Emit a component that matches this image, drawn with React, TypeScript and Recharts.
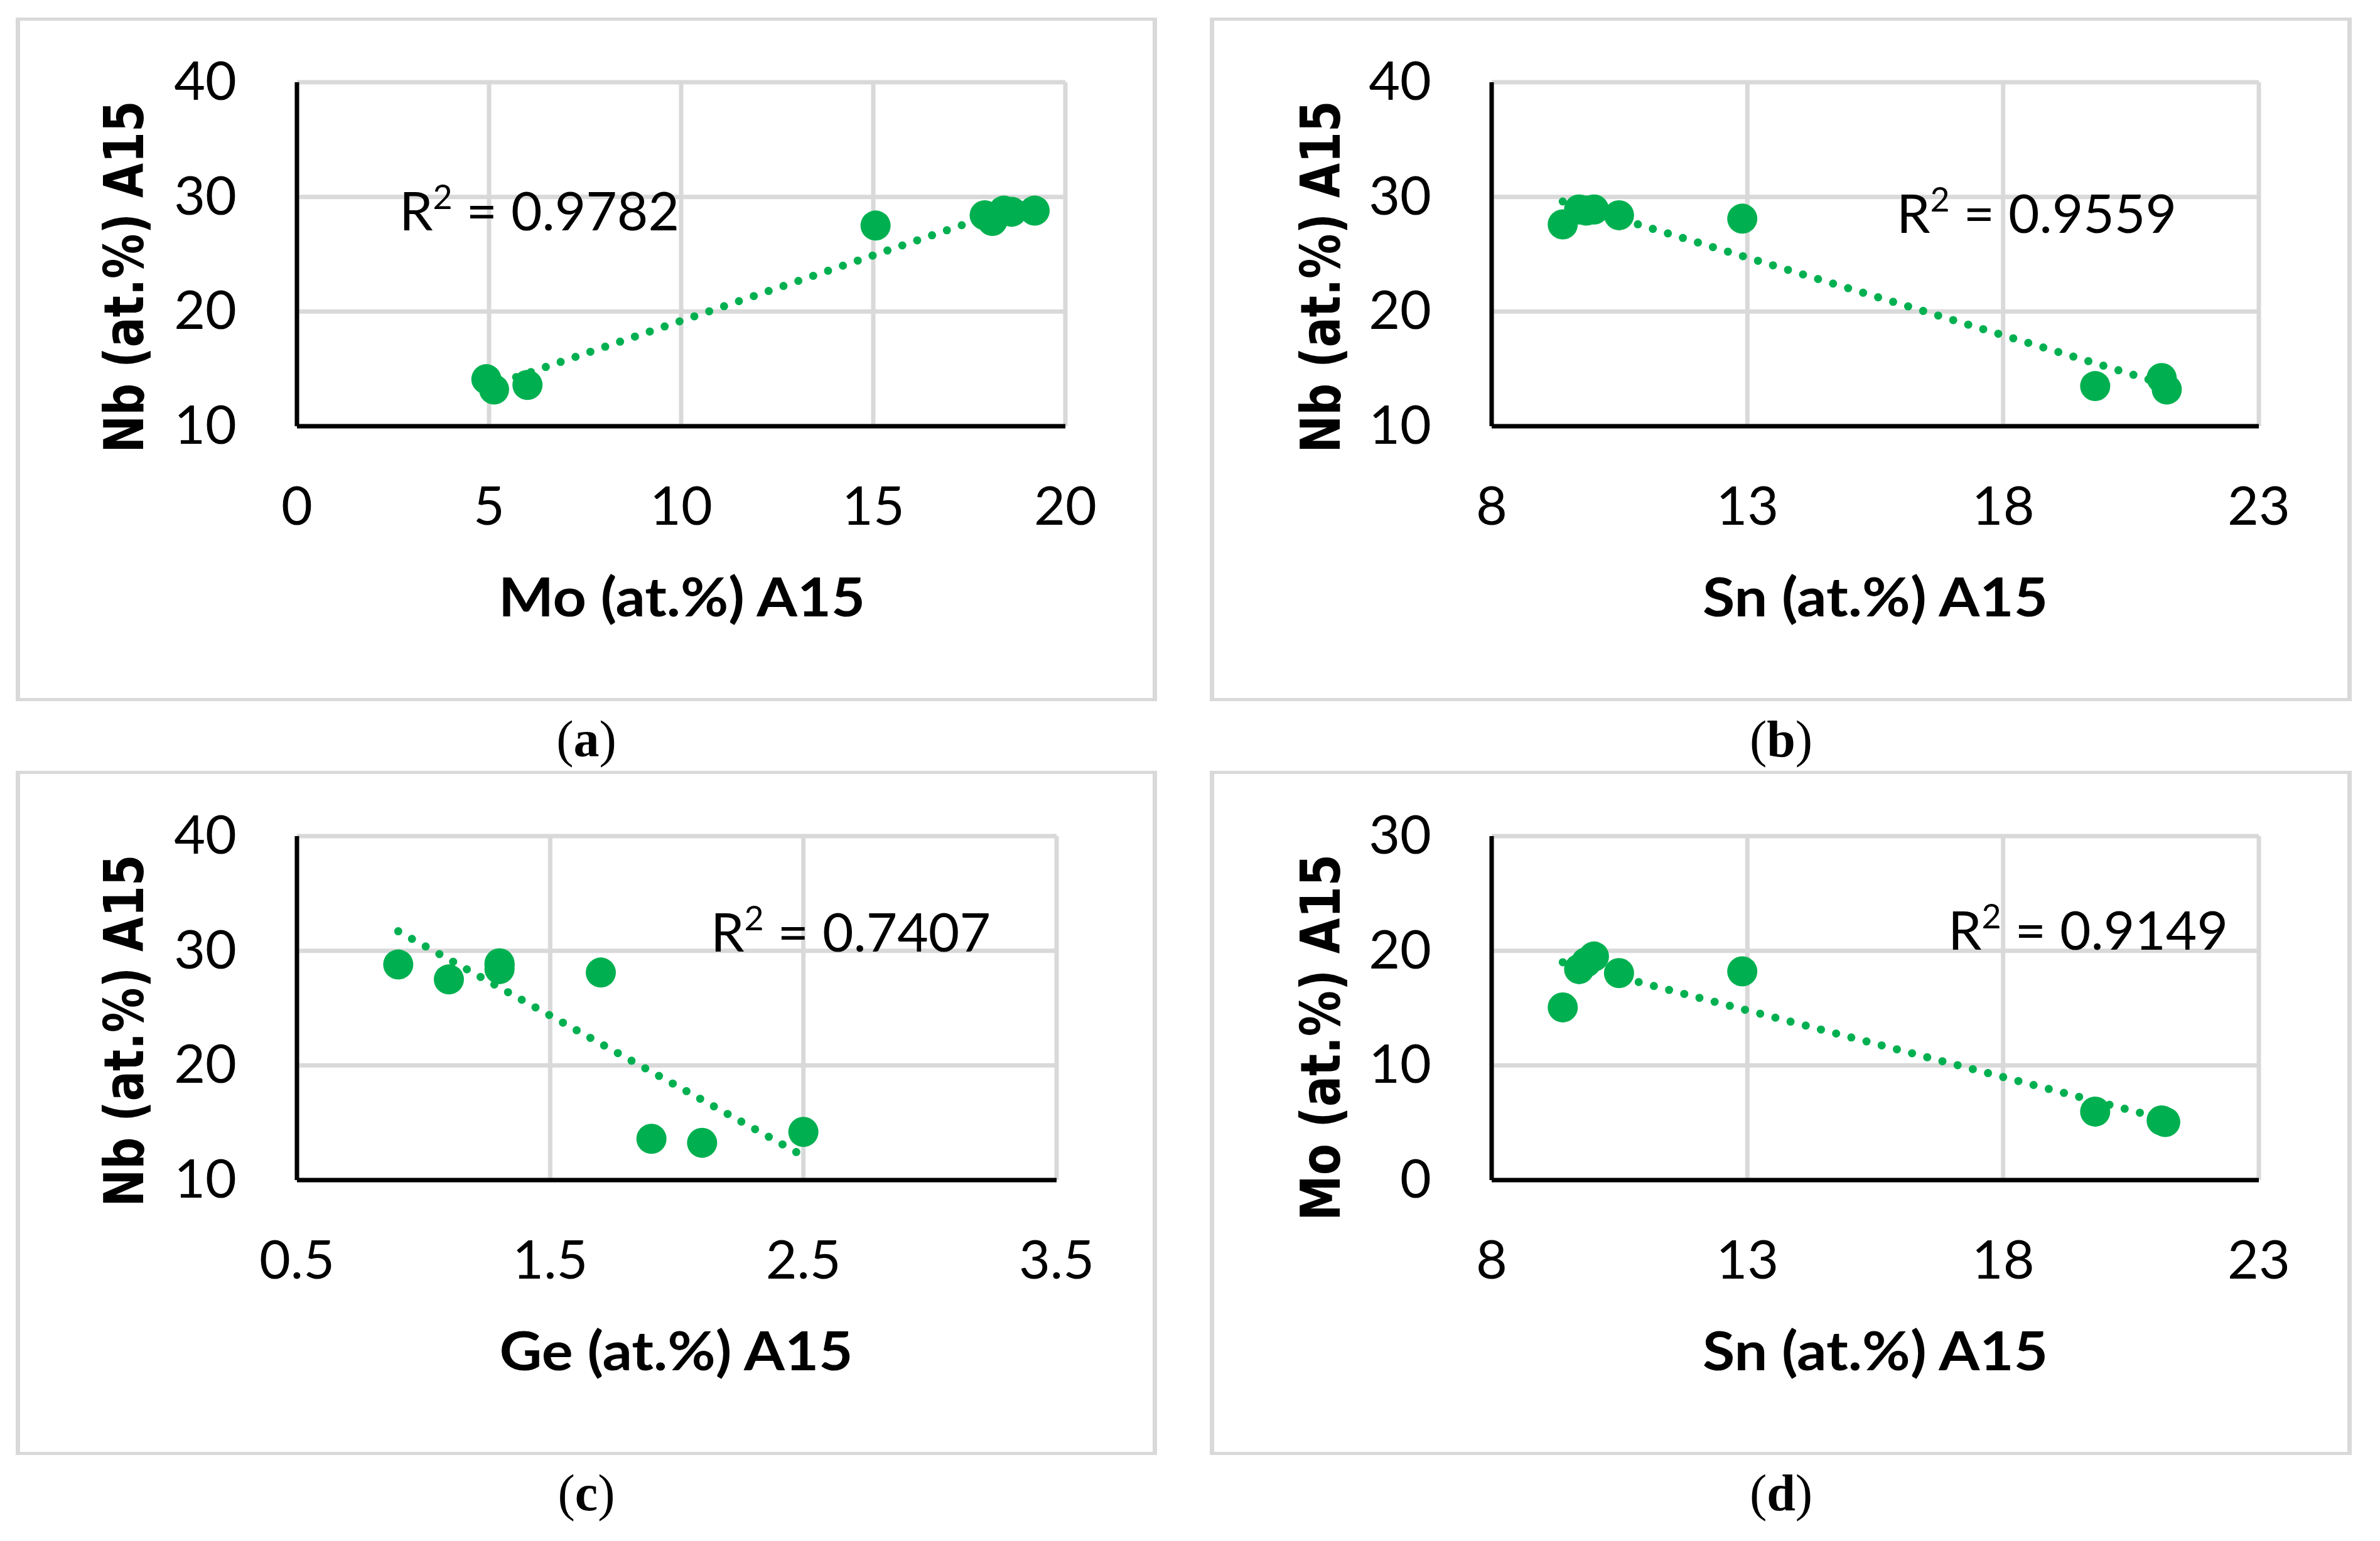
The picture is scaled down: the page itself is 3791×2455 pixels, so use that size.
import { ScatterChart, Scatter, XAxis, YAxis, CartesianGrid } from 'recharts';

const GREEN = '#00B050';
const GRID = '#d9d9d9';

// (a) Nb vs Mo
const moA = [4.93, 5.13, 6.0, 15.06, 17.9, 18.1, 18.4, 18.6, 19.2];
const nbA = [14.1, 13.2, 13.6, 27.5, 28.4, 27.9, 28.8, 28.7, 28.8];
const trendA = [{ x: 4.93, y: 13.4 }, { x: 19.2, y: 29.7 }];

// (b) Nb vs Sn
const snB = [9.39, 9.71, 9.85, 10.0, 10.49, 12.9, 19.8, 21.1, 21.2];
const nbB = [27.6, 28.9, 28.8, 28.9, 28.4, 28.1, 13.5, 14.2, 13.2];
const trendB = [{ x: 9.39, y: 29.6 }, { x: 21.2, y: 13.6 }];

// (c) Nb vs Ge
const geC = [0.9, 1.1, 1.3, 1.3, 1.3, 1.7, 1.9, 2.1, 2.5];
const nbC = [28.8, 27.5, 28.9, 28.7, 28.4, 28.1, 13.6, 13.25, 14.2];
const trendC = [{ x: 0.9, y: 31.7 }, { x: 2.5, y: 12.1 }];

// (d) Mo vs Sn
const snD = [9.39, 9.71, 9.85, 10.0, 10.49, 12.9, 19.8, 21.1, 21.17];
const moD = [15.06, 18.4, 19.0, 19.5, 18.05, 18.2, 5.97, 5.2, 5.06];
const trendD = [{ x: 9.39, y: 19.0 }, { x: 21.17, y: 5.3 }];

const ticksMo = [0, 5, 10, 15, 20];
const ticksSn = [8, 13, 18, 23];
const ticksGe = [0.5, 1.5, 2.5, 3.5];
const ticksNb = [10, 20, 30, 40];
const ticksMoY = [0, 10, 20, 30];

const r2Values = ['0.9782', '0.9559', '0.7407', '0.9149'];
const xTitles = ['Mo (at.%) A15', 'Sn (at.%) A15', 'Ge (at.%) A15', 'Sn (at.%) A15'];
const yTitles = ['Nb (at.%) A15', 'Nb (at.%) A15', 'Nb (at.%) A15', 'Mo (at.%) A15'];
const captions = ['a', 'b', 'c', 'd'];

const toPoints = (xs: number[], ys: number[]) => xs.map((x, i) => ({ x, y: ys[i] }));

const panels = [
  { box: { left: 25, top: 28, width: 1818, height: 1089 }, plot: { left: 448, top: 103, right: 146, bottom: 438 },
    xTicks: ticksMo, yTicks: ticksNb, points: toPoints(moA, nbA), trend: trendA },
  { box: { left: 1927, top: 28, width: 1819, height: 1089 }, plot: { left: 449, top: 103, right: 148, bottom: 438 },
    xTicks: ticksSn, yTicks: ticksNb, points: toPoints(snB, nbB), trend: trendB },
  { box: { left: 25, top: 1228, width: 1818, height: 1090 }, plot: { left: 448, top: 104, right: 160, bottom: 438 },
    xTicks: ticksGe, yTicks: ticksNb, points: toPoints(geC, nbC), trend: trendC },
  { box: { left: 1927, top: 1228, width: 1819, height: 1090 }, plot: { left: 449, top: 104, right: 148, bottom: 438 },
    xTicks: ticksSn, yTicks: ticksMoY, points: toPoints(snD, moD), trend: trendD },
];

// overlay text positions (page coordinates)
const r2Pos = [[636, 367], [3021, 371], [1132, 1516], [3103, 1513]];
const xTitlePos = [[1086, 982, 584], [2987, 982, 550], [1077, 2183, 563], [2987, 2183, 550]];
const yTitlePos = [[228, 441, 561], [2134, 441, 561], [228, 1642, 561], [2134, 1653, 584]];
const captionPos = [[934, 1205], [2837, 1205], [934, 2406], [2837, 2406]];

const XTick = (p: any) => (
  <text x={p.x} y={p.y + 157} textAnchor="middle" fontFamily="Lato" fontSize={86} fill="#000">
    {p.payload.value}
  </text>
);

const YTick = (p: any) => (
  <text x={p.x} y={p.y + 28} textAnchor="end" fontFamily="Lato" fontSize={86} fill="#000">
    {p.payload.value}
  </text>
);

function Panel({ box, plot, xTicks, yTicks, points, trend }: any) {
  return (
    <>
      <div
        style={{
          position: 'absolute', left: box.left, top: box.top, width: box.width, height: box.height,
          boxSizing: 'border-box', borderStyle: 'solid', borderColor: GRID,
          borderLeftWidth: 7, borderRightWidth: 7, borderTopWidth: 5, borderBottomWidth: 5,
        }}
      />
      <div style={{ position: 'absolute', left: box.left, top: box.top }}>
        <ScatterChart
          width={box.width}
          height={box.height}
          margin={{ top: plot.top, right: plot.right, bottom: 0, left: 0 }}
        >
          <CartesianGrid stroke={GRID} strokeWidth={7} />
          <XAxis
            type="number"
            dataKey="x"
            domain={[xTicks[0], xTicks[xTicks.length - 1]]}
            ticks={xTicks}
            interval={0}
            height={plot.bottom}
            axisLine={{ stroke: '#000', strokeWidth: 7 }}
            tickLine={false}
            tickSize={0}
            tickMargin={0}
            tick={XTick}
          />
          <YAxis
            type="number"
            dataKey="y"
            domain={[yTicks[0], yTicks[yTicks.length - 1]]}
            ticks={yTicks}
            interval={0}
            width={plot.left}
            axisLine={{ stroke: '#000', strokeWidth: 7 }}
            tickLine={false}
            tickSize={0}
            tickMargin={96}
            tick={YTick}
          />
          <Scatter
            data={trend}
            isAnimationActive={false}
            line={{ stroke: GREEN, strokeWidth: 13, strokeDasharray: '0 25', strokeLinecap: 'round' }}
            shape={() => <g />}
          />
          <Scatter
            data={points}
            fill={GREEN}
            isAnimationActive={false}
            shape={(p: any) => <circle cx={p.cx} cy={p.cy} r={24} fill={GREEN} />}
          />
        </ScatterChart>
      </div>
    </>
  );
}

function Overlay() {
  return (
    <svg width={3791} height={2455} style={{ position: 'absolute', left: 0, top: 0, pointerEvents: 'none' }}>
      {r2Values.map((v, i) => (
        <text key={'r' + i} x={r2Pos[i][0]} y={r2Pos[i][1]} fontFamily="Lato" fontSize={86} fill="#000"
          textLength={446} lengthAdjust="spacingAndGlyphs">
          R<tspan fontSize={54} dy={-34}>2</tspan>
          <tspan dy={34}>{' = ' + v}</tspan>
        </text>
      ))}
      {xTitles.map((t, i) => (
        <text key={'x' + i} x={xTitlePos[i][0]} y={xTitlePos[i][1]} textAnchor="middle" fontFamily="Lato"
          fontWeight="bold" fontSize={86} fill="#000" textLength={xTitlePos[i][2]} lengthAdjust="spacingAndGlyphs">
          {t}
        </text>
      ))}
      {yTitles.map((t, i) => (
        <text key={'y' + i} x={yTitlePos[i][0]} y={yTitlePos[i][1]} textAnchor="middle" fontFamily="DejaVu Sans"
          fontWeight="bold" fontSize={88} fill="#000" textLength={yTitlePos[i][2]} lengthAdjust="spacingAndGlyphs"
          transform={`rotate(-90 ${yTitlePos[i][0]} ${yTitlePos[i][1]})`}>
          {t}
        </text>
      ))}
      {captions.map((c, i) => (
        <text key={'c' + i} x={captionPos[i][0]} y={captionPos[i][1]} textAnchor="middle"
          fontFamily="Liberation Serif" fontSize={82} fill="#000">
          (<tspan fontWeight="bold">{c}</tspan>)
        </text>
      ))}
    </svg>
  );
}

export default function App() {
  return (
    <div style={{ position: 'absolute', left: 0, top: 0, width: 3791, height: 2455, background: '#fff', overflow: 'hidden' }}>
      <style>{'body{margin:0}'}</style>
      {panels.map((p, i) => (
        <Panel key={i} {...p} />
      ))}
      <Overlay />
    </div>
  );
}
